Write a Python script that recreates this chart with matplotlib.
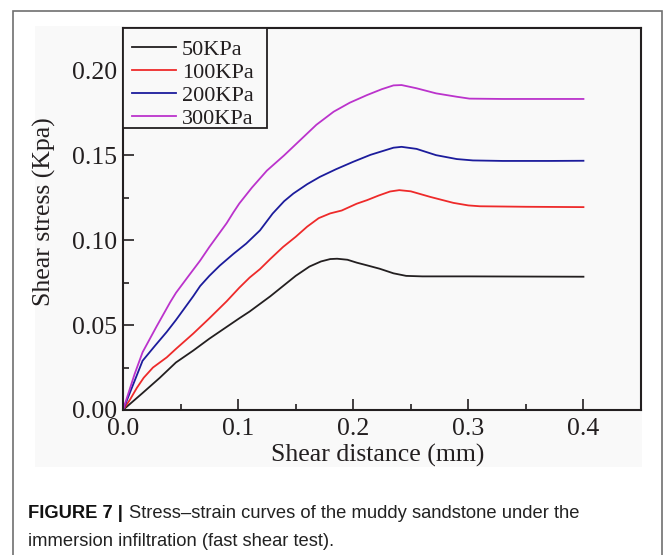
import matplotlib
matplotlib.use("Agg")
import matplotlib.pyplot as plt
from matplotlib.patches import Rectangle
from matplotlib.ticker import MultipleLocator, FormatStrFormatter

# ---- data ----
x_50 = [0, 0.017, 0.032, 0.046, 0.061, 0.075, 0.088, 0.101, 0.110, 0.128, 0.139, 0.150,
        0.162, 0.172, 0.180, 0.186, 0.195, 0.203, 0.212, 0.223, 0.235, 0.246, 0.26, 0.30, 0.35, 0.40]
y_50 = [0, 0.010, 0.019, 0.028, 0.035, 0.042, 0.048, 0.054, 0.058, 0.067, 0.073, 0.079,
        0.0845, 0.0875, 0.0889, 0.0891, 0.0885, 0.0868, 0.0852, 0.0832, 0.0805, 0.0790, 0.0787,
        0.0787, 0.0786, 0.0785]

x_100 = [0, 0.006, 0.012, 0.018, 0.026, 0.038, 0.046, 0.061, 0.075, 0.090, 0.101, 0.110, 0.119,
         0.128, 0.139, 0.150, 0.160, 0.170, 0.180, 0.190, 0.203, 0.212, 0.222, 0.232, 0.240, 0.250,
         0.267, 0.287, 0.300, 0.310, 0.35, 0.40]
y_100 = [0, 0.006, 0.013, 0.019, 0.025, 0.031, 0.036, 0.045, 0.054, 0.064, 0.072, 0.078, 0.083,
         0.089, 0.096, 0.102, 0.108, 0.113, 0.1158, 0.1175, 0.1215, 0.1236, 0.1263, 0.1287, 0.1295,
         0.1288, 0.1255, 0.1220, 0.1205, 0.1200, 0.1197, 0.1195]

x_200 = [0, 0.010, 0.017, 0.028, 0.038, 0.046, 0.061, 0.067, 0.075, 0.084, 0.096, 0.107, 0.119,
         0.130, 0.140, 0.148, 0.160, 0.171, 0.185, 0.200, 0.215, 0.235, 0.242, 0.255, 0.272, 0.290,
         0.304, 0.33, 0.37, 0.40]
y_200 = [0, 0.017, 0.029, 0.038, 0.046, 0.053, 0.067, 0.073, 0.079, 0.085, 0.092, 0.098, 0.1058,
         0.1157, 0.123, 0.1275, 0.133, 0.1373, 0.1418, 0.1462, 0.1503, 0.1545, 0.155, 0.1538, 0.1501,
         0.1478, 0.1470, 0.1467, 0.1467, 0.1468]

x_300 = [0, 0.010, 0.017, 0.029, 0.041, 0.046, 0.057, 0.067, 0.075, 0.090, 0.096, 0.101, 0.112,
         0.125, 0.140, 0.154, 0.168, 0.183, 0.197, 0.212, 0.225, 0.235, 0.242, 0.255, 0.272, 0.290,
         0.301, 0.33, 0.37, 0.40]
y_300 = [0, 0.021, 0.034, 0.049, 0.0635, 0.069, 0.079, 0.088, 0.096, 0.110, 0.1165, 0.1216, 0.131,
         0.141, 0.150, 0.159, 0.168, 0.1757, 0.181, 0.1855, 0.189, 0.1912, 0.1914, 0.1895, 0.1865,
         0.1845, 0.1834, 0.1832, 0.1832, 0.1832]

labels = ["50KPa", "100KPa", "200KPa", "300KPa"]
colors = ["#231f20", "#ee2a2a", "#1c1c9c", "#bb33cc"]
x_ticks = [0.0, 0.1, 0.2, 0.3, 0.4]
y_ticks = [0.00, 0.05, 0.10, 0.15, 0.20]

caption_bold = "FIGURE 7 |"
caption_line1 = "Stress\u2013strain curves of the muddy sandstone under the"
caption_line2 = "immersion infiltration (fast shear test)."

# ---- figure ----
W, H = 663, 555
fig = plt.figure(figsize=(W / 100, H / 100), dpi=100)
fig.patch.set_facecolor("white")

# outer border box
fig.patches.append(Rectangle((13 / W, -0.2), (661.5 - 13) / W, 1.2 - 11 / H,
                             transform=fig.transFigure, fill=False, edgecolor="#707070",
                             linewidth=1.2, zorder=-2))
# light-gray chart image background
bg = "#f9f9f9"
fig.patches.append(Rectangle((35 / W, 1 - 467 / H), (642 - 35) / W, (467 - 26) / H,
                             transform=fig.transFigure, facecolor=bg, edgecolor="none",
                             zorder=-1))

AX_L, AX_R, AX_T, AX_B = 123, 641, 28, 410
AW, AH = AX_R - AX_L, AX_B - AX_T
ax = fig.add_axes([AX_L / W, 1 - AX_B / H, AW / W, AH / H])
ax.set_zorder(2)
ax.set_facecolor(bg)

serif = "Liberation Serif"
ink = "#231f20"

for xs, ys, lab, c in zip([x_50, x_100, x_200, x_300], [y_50, y_100, y_200, y_300], labels, colors):
    ax.plot(xs, ys, color=c, lw=1.3, label=lab)

ax.set_xlim(0, 0.45)
ax.set_ylim(0, 0.225)
ax.set_xticks(x_ticks)
ax.set_yticks(y_ticks)
ax.xaxis.set_major_formatter(FormatStrFormatter("%.1f"))
ax.yaxis.set_major_formatter(FormatStrFormatter("%.2f"))
ax.xaxis.set_minor_locator(MultipleLocator(0.05))
ax.yaxis.set_minor_locator(MultipleLocator(0.025))
ax.tick_params(which="both", direction="in", top=False, right=False, color=ink, width=1.2,
               labelsize=18.5, labelcolor=ink)
ax.tick_params(axis="y", pad=4)
ax.tick_params(axis="x", pad=6)
ax.tick_params(which="major", length=8)
ax.tick_params(which="minor", length=4.5)
for lab in ax.get_xticklabels() + ax.get_yticklabels():
    lab.set_fontfamily(serif)
for s in ax.spines.values():
    s.set_color(ink)
    s.set_linewidth(1.5)

ax.set_xlabel("Shear distance (mm)", fontfamily=serif, fontsize=18.5, color=ink, va="center")
ax.set_ylabel("Shear stress (Kpa)", fontfamily=serif, fontsize=18.5, color=ink, va="center")
ax.xaxis.set_label_coords((377.5 - AX_L) / AW, (AX_B - 455) / AH)
ax.yaxis.set_label_coords((44 - AX_L) / AW, (AX_B - 212) / AH)

# legend: manual frame + frameless legend
ax.add_patch(Rectangle((0, (AX_B - 128) / AH), (267 - AX_L) / AW, (128 - AX_T) / AH,
                       transform=ax.transAxes, facecolor=bg, edgecolor=ink, linewidth=1.3,
                       zorder=5, clip_on=False))
leg = ax.legend(loc="upper left", bbox_to_anchor=((132 - AX_L) / AW, (AX_B - 39) / AH),
                borderaxespad=0, borderpad=0, frameon=False, handlelength=2.0,
                handletextpad=0.25, labelspacing=0.12,
                prop={"family": serif, "size": 16})
leg.set_zorder(6)
for t in leg.get_texts():
    t.set_color(ink)

# caption
sans = "Liberation Sans"
tb = fig.text(28 / W, 1 - 513 / H, caption_bold, fontfamily=sans, fontweight="bold",
              fontsize=13.2, color="#111111", va="center", ha="left")
fig.canvas.draw()
bb = tb.get_window_extent(fig.canvas.get_renderer())
fig.text((bb.x1 + 6) / W, 1 - 513 / H, caption_line1, fontfamily=sans, fontsize=13.2,
         color="#222222", va="center", ha="left")
fig.text(28 / W, 1 - 541 / H, caption_line2, fontfamily=sans, fontsize=13.2,
         color="#222222", va="center", ha="left")

fig.savefig("out.png", dpi=100)
